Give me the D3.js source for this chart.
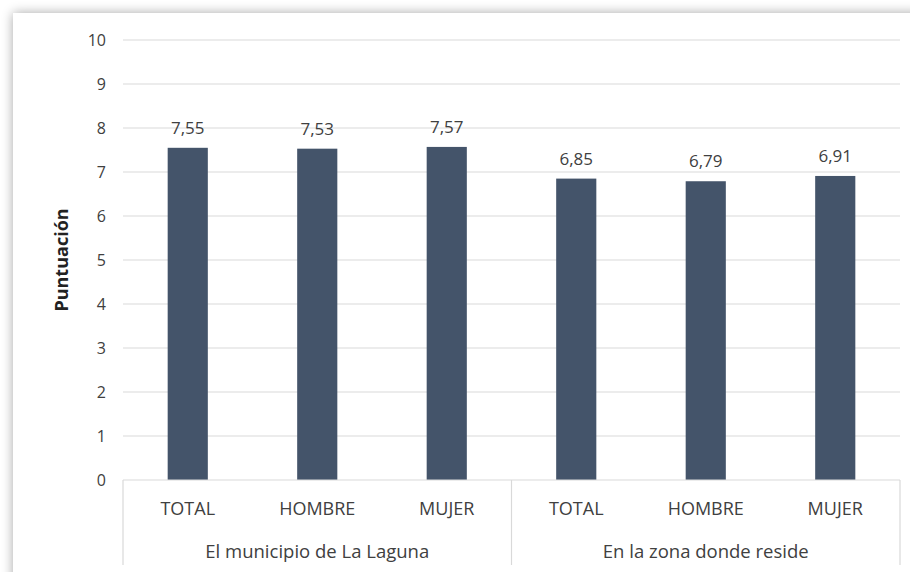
<!DOCTYPE html>
<html><head><meta charset="utf-8">
<script src="https://cdn.jsdelivr.net/npm/d3@7"></script>
<style>body{margin:0;background:#fff}svg{display:block}</style>
</head><body>
<svg id="c" width="910" height="572"></svg>
<script>
const groups = ["El municipio de La Laguna", "En la zona donde reside"];
const subcats = ["TOTAL", "HOMBRE", "MUJER"];
const values = [7.55, 7.53, 7.57, 6.85, 6.79, 6.91];
const labels = ["7,55", "7,53", "7,57", "6,85", "6,79", "6,91"];
const yTicks = [0,1,2,3,4,5,6,7,8,9,10];

(function(){
const svg = d3.select("#c");
const W = 910, H = 572;
const font = "'Open Sans', sans-serif";

// shadow frame
const defs = svg.append("defs");
const f = defs.append("filter").attr("id","sh").attr("x","-5%").attr("y","-5%").attr("width","110%").attr("height","110%");
f.append("feGaussianBlur").attr("in","SourceAlpha").attr("stdDeviation",6);
f.append("feComponentTransfer").append("feFuncA").attr("type","linear").attr("slope",0.35);
const m = f.append("feMerge"); m.append("feMergeNode"); m.append("feMergeNode").attr("in","SourceGraphic");
svg.append("rect").attr("width",W).attr("height",H).attr("fill","#fff");
svg.append("rect").attr("x",13).attr("y",13).attr("width",W+40).attr("height",H+40).attr("fill","#fff").attr("filter","url(#sh)");

const pl = 123, pr = 900, pt = 40, pb = 480;
const keys = d3.range(values.length);
const x = d3.scaleBand().domain(keys).range([pl, pr]).paddingInner(0.69).paddingOuter(0.345);
const y = d3.scaleLinear().domain([0,10]).range([pb, pt]);

// grid
svg.append("g").selectAll("line").data(yTicks.filter(d=>d>0)).join("line")
  .attr("x1", pl).attr("x2", pr).attr("y1", d=>y(d)).attr("y2", d=>y(d))
  .attr("stroke","#d9d9d9").attr("stroke-width",1.2);

// y axis labels
const yAxis = d3.axisLeft(y).tickValues(yTicks).tickSize(0).tickPadding(17).tickFormat(d3.format("d"));
const ya = svg.append("g").attr("transform",`translate(${pl},0)`).call(yAxis);
ya.select(".domain").remove();
ya.selectAll("text").attr("font-family",font).attr("font-size",16).attr("fill","#404040");

// bars
svg.append("g").selectAll("rect").data(keys).join("rect")
  .attr("x", i=>x(i)).attr("width", x.bandwidth())
  .attr("y", i=>y(values[i])).attr("height", i=>y(0)-y(values[i]))
  .attr("fill","#44546a");

// value labels
svg.append("g").selectAll("text").data(keys).join("text")
  .attr("x", i=>x(i)+x.bandwidth()/2).attr("y", i=>y(values[i])-14)
  .attr("text-anchor","middle").attr("font-family",font).attr("font-size",17).attr("fill","#404040")
  .text(i=>labels[i]);

// category axis box
const ax = svg.append("g").attr("stroke","#d9d9d9").attr("stroke-width",1.2);
ax.append("line").attr("x1",pl).attr("x2",pr).attr("y1",pb).attr("y2",pb);
const sep = [pl, (x(2)+x.bandwidth()+x(3))/2, pr];
ax.selectAll(".v").data(sep).join("line").attr("x1",d=>d).attr("x2",d=>d).attr("y1",pb).attr("y2",565);

// sub-category labels
svg.append("g").selectAll("text").data(keys).join("text")
  .attr("x", i=>x(i)+x.bandwidth()/2).attr("y", 515)
  .attr("text-anchor","middle").attr("font-family",font).attr("font-size",18).attr("fill","#404040")
  .text(i=>subcats[i%3]);

// group labels
svg.append("g").selectAll("text").data(groups).join("text")
  .attr("x", (d,g)=>(sep[g]+sep[g+1])/2).attr("y", 558)
  .attr("text-anchor","middle").attr("font-family",font).attr("font-size",18.5).attr("fill","#404040")
  .text(d=>d);

// y title
svg.append("text").attr("transform",`translate(68,${(pt+pb)/2}) rotate(-90)`)
  .attr("text-anchor","middle").attr("font-family",font).attr("font-size",18).attr("font-weight","bold").attr("fill","#222")
  .text("Puntuación");
})();
</script>
</body></html>
